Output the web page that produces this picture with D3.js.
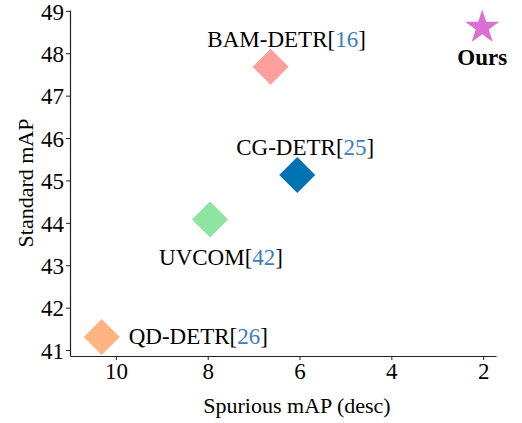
<!DOCTYPE html>
<html>
<head>
<meta charset="utf-8">
<script src="https://cdn.jsdelivr.net/npm/d3@7"></script>
<style>
  body { margin: 0; background: #fff; }
  svg text { font-family: "Liberation Serif", "Times New Roman", serif; }
</style>
</head>
<body>
<script>
(function(){

//chart data
var methods = ["QD-DETR", "UVCOM", "CG-DETR", "BAM-DETR", "Ours"];
var refs = ["26", "42", "25", "16", ""];
var spuriousMAP = [10.31, 7.95, 6.05, 6.63, 2.02];
var standardMAP = [41.31, 44.08, 45.13, 47.68, 48.61];
var colors = ["#FFB482", "#8DE5A1", "#0173B2", "#FF9F9B", "#DA70D6"];
var xTicks = [10, 8, 6, 4, 2];
var yTicks = [41, 42, 43, 44, 45, 46, 47, 48, 49];

//label placement relative to marker (dx, dy, anchor)
var labelPos = [
  {dx: 27, dy: 7, anchor: "start"},
  {dx: 11, dy: 46, anchor: "middle"},
  {dx: 8, dy: -20, anchor: "middle"},
  {dx: 16, dy: -20, anchor: "middle"},
  {dx: 0, dy: 38, anchor: "middle"}
];

window.onload = drawChart();

function drawChart(){
  var width = 522,
      height = 423;

  var svg = d3.select("body")
    .append("svg")
    .attr("width", width)
    .attr("height", height);

  //reversed x scale (desc)
  var x = d3.scaleLinear()
    .domain([11.0, 1.72])
    .range([70, 496]);

  var y = d3.scaleLinear()
    .domain([40.86, 49.02])
    .range([356, 10]);

  //axes
  var yAxis = svg.append("g")
    .attr("transform", "translate(70,0)")
    .call(d3.axisLeft(y).tickValues(yTicks).tickSize(4).tickSizeOuter(0).tickPadding(2));

  var xAxis = svg.append("g")
    .attr("transform", "translate(0,356)")
    .call(d3.axisBottom(x).tickValues(xTicks).tickSize(4).tickSizeOuter(0).tickPadding(3));

  [xAxis, yAxis].forEach(function(ax){
    ax.selectAll("text")
      .style("font-family", "'Liberation Serif', serif")
      .style("font-size", "23px")
      .attr("fill", "#000");
    ax.select(".domain").attr("stroke", "#222").attr("stroke-width", 1.2);
    ax.selectAll(".tick line").attr("stroke", "#222");
  });
  yAxis.selectAll("text").attr("dy", "0.36em");

  //axis titles
  svg.append("text")
    .attr("x", 297)
    .attr("y", 413)
    .attr("text-anchor", "middle")
    .style("font-size", "22px")
    .text("Spurious mAP (desc)");

  svg.append("text")
    .attr("transform", "translate(33,183) rotate(-90)")
    .attr("text-anchor", "middle")
    .style("font-size", "22px")
    .text("Standard mAP");

  //markers
  var diamond = d3.symbol().type(d3.symbolSquare).size(648);
  var star = d3.symbol().type(d3.symbolStar).size(364);

  svg.selectAll(".marker")
    .data(methods)
    .enter()
    .append("path")
    .attr("class", "marker")
    .attr("d", function(d, i){
      return d == "Ours" ? star() : diamond();
    })
    .attr("transform", function(d, i){
      var t = "translate(" + x(spuriousMAP[i]) + "," + y(standardMAP[i]) + ")";
      return d == "Ours" ? t : t + " rotate(45)";
    })
    .attr("fill", function(d, i){ return colors[i]; });

  //labels
  var labels = svg.selectAll(".label")
    .data(methods)
    .enter()
    .append("text")
    .attr("class", "label")
    .attr("x", function(d, i){ return x(spuriousMAP[i]) + labelPos[i].dx; })
    .attr("y", function(d, i){ return y(standardMAP[i]) + labelPos[i].dy; })
    .attr("text-anchor", function(d, i){ return labelPos[i].anchor; })
    .style("font-size", "23px")
    .style("font-weight", function(d){ return d == "Ours" ? "bold" : "normal"; });

  labels.each(function(d, i){
    var t = d3.select(this);
    t.append("tspan").attr("fill", "#000").text(d);
    if (refs[i] != ""){
      t.append("tspan").attr("fill", "#000").text("[");
      t.append("tspan").attr("fill", "#3A7EC2").text(refs[i]);
      t.append("tspan").attr("fill", "#000").text("]");
    };
  });
};

})();
</script>
</body>
</html>
